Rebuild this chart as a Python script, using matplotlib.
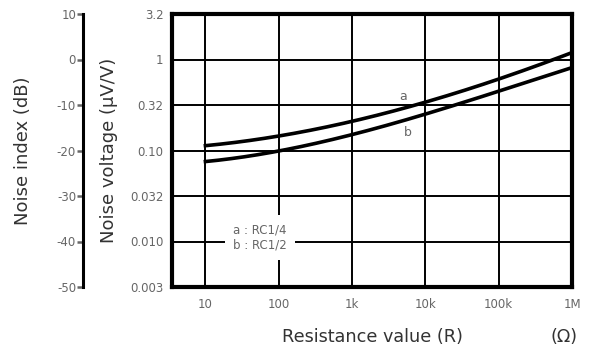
import matplotlib.pyplot as plt
import numpy as np

plt.rcParams['axes.unicode_minus'] = False

# Data
resistance = [10, 100, 1e3, 1e4, 1e5, 1e6]
noise_a = [0.112, 0.148, 0.206, 0.333, 0.627, 1.18]   # RC1/4
noise_b = [0.075, 0.101, 0.148, 0.245, 0.462, 0.807]  # RC1/2

x_ticks = [10, 100, 1e3, 1e4, 1e5, 1e6]
x_labels = ['10', '100', '1k', '10k', '100k', '1M']
y_ticks = [10**0.5, 1, 10**-0.5, 0.1, 10**-1.5, 0.01, 10**-2.5]
y_labels = ['3.2', '1', '0.32', '0.10', '0.032', '0.010', '0.003']
db_ticks = [10, 0, -10, -20, -30, -40, -50]

txt = '#666666'
lab = '#333333'

fig = plt.figure(figsize=(5.95, 3.5), dpi=100)
fig.patch.set_facecolor('white')
ax = fig.add_axes([172/595, 1 - 287/350, 400/595, 273/350])

# smooth curves through the read points (log-log)
lx = np.log10(resistance)
xs = np.linspace(lx[0], lx[-1], 200)
for vals in (noise_a, noise_b):
    coef = np.polyfit(lx, np.log10(vals), 3)
    ax.plot(10**xs, 10**np.polyval(coef, xs), color='black', lw=2.6, zorder=3)

ax.set_xscale('log')
ax.set_yscale('log')
ax.set_xlim(3.5, 1e6)
ax.set_ylim(10**-2.5, 10**0.5)
ax.set_xticks(x_ticks)
ax.set_xticklabels(x_labels)
ax.set_yticks(y_ticks)
ax.set_yticklabels(y_labels)
ax.minorticks_off()
ax.grid(True, color='black', lw=1.4)
ax.tick_params(length=0, labelsize=8.5, colors=txt, pad=6)
ax.tick_params(axis='x', pad=8)
for s in ax.spines.values():
    s.set_linewidth(3)

ax.text(4900, 0.397, 'a', fontsize=9, color=txt, ha='center', va='center')
ax.text(5750, 0.156, 'b', fontsize=9, color=txt, ha='center', va='center')
ax.text(0.153, 0.182, 'a : RC1/4\nb : RC1/2', transform=ax.transAxes, fontsize=8.5,
        color=txt, va='center', ha='left', linespacing=1.25, zorder=4,
        bbox=dict(facecolor='white', edgecolor='none', pad=6))

ax.set_ylabel('Noise voltage (\u00b5V/V)', fontsize=13, color=lab)
ax.yaxis.set_label_coords(-0.135, 0.5)
ax.set_xlabel('Resistance value (R)', fontsize=12.7, color=lab)
ax.xaxis.set_label_coords(0.5, -0.15)
ax.text(0.98, -0.183, '(\u03a9)', transform=ax.transAxes, fontsize=12.7, color=lab,
        ha='center', va='center')

# noise index (dB) axis further left
ax2 = ax.twinx()
ax2.set_ylim(-50, 10)
for k in ('right', 'top', 'bottom'):
    ax2.spines[k].set_visible(False)
ax2.spines['left'].set_visible(True)
ax2.spines['left'].set_position(('axes', -89/400))
ax2.spines['left'].set_linewidth(2.2)
ax2.yaxis.set_ticks_position('left')
ax2.yaxis.set_label_position('left')
ax2.set_yticks(db_ticks)
ax2.tick_params(length=4, width=1.8, labelsize=8.5, colors=txt, pad=1)
for t in ax2.yaxis.get_ticklines():
    t.set_color('black')
ax2.set_ylabel('Noise index (dB)', fontsize=13, color=lab)
ax2.yaxis.set_label_coords(-0.35, 0.5)

fig.savefig('out.png', dpi=100)
